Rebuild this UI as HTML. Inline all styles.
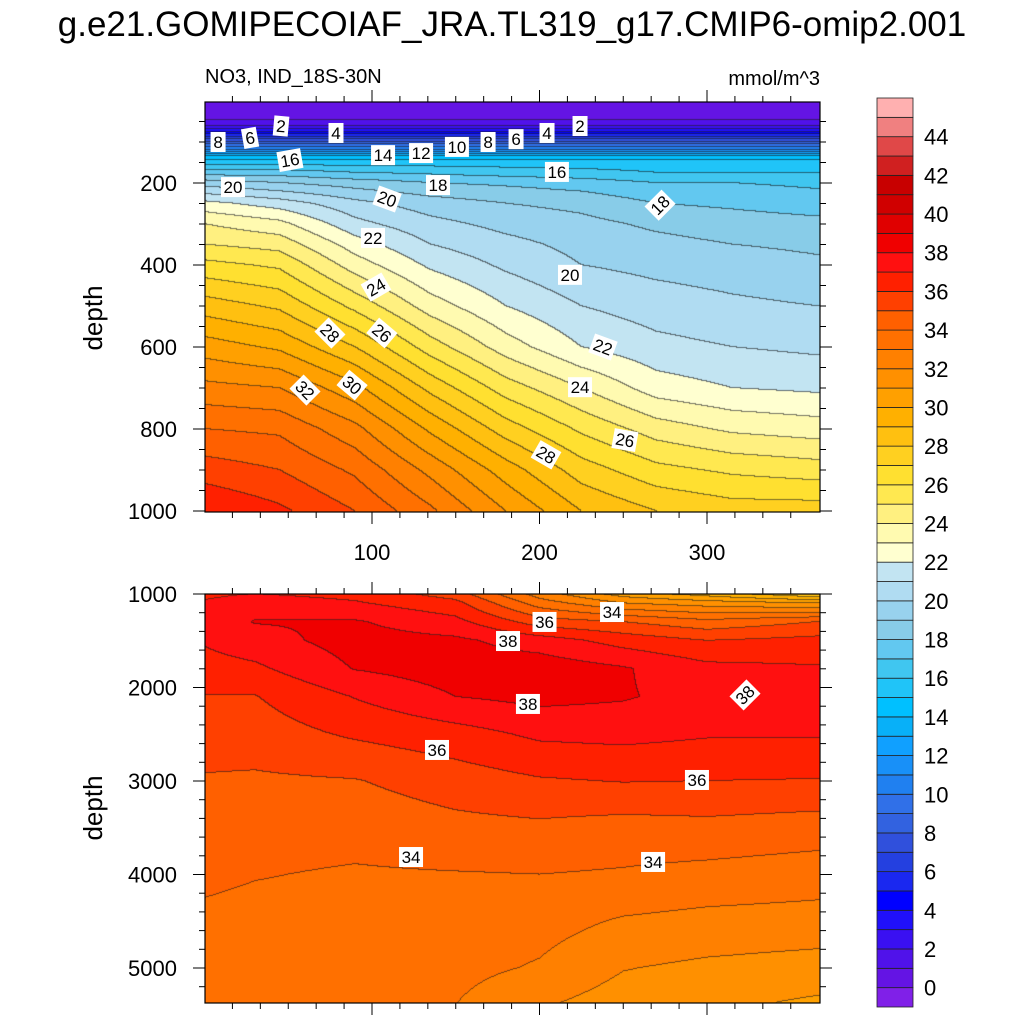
<!DOCTYPE html>
<html><head><meta charset="utf-8">
<style>
html,body{margin:0;padding:0;background:#fff;}
#wrap{position:relative;width:1024px;height:1024px;overflow:hidden;font-family:"Liberation Sans",sans-serif;}
canvas,svg{position:absolute;left:0;top:0;}
</style></head>
<body>
<div id="wrap">
<canvas id="cv" width="1024" height="1024"></canvas>
<svg id="sv" width="1024" height="1024"></svg>
</div>
<script>
// ---------- data ----------
const colors = ["#8020e8","#6414e4","#5012ea","#3a10f2","#2010fa","#0000ff","#1a28f0","#2440e0","#3050dc","#3262e0","#3070e8","#2080f0","#1890f8","#10a0ff","#08b0f8","#00c0ff","#20c4f8","#40c6f0","#62c8f0","#88cce8","#98d2ee","#b0dcf2","#c2e4f2","#ffffd0","#fffab0","#fff080","#ffe850","#ffe030","#ffd020","#ffc010","#ffb000","#ffa000","#ff9000","#ff8000","#ff7000","#ff6000","#ff4000","#ff2000","#ff1010","#f00000","#e00000","#d00000","#c80000","#d02020","#e04848","#f08080","#ffb0b0"];
const cbarTicks = [0,2,4,6,8,10,12,14,16,18,20,22,24,26,28,30,32,34,36,38,40,42,44];

const topDays = [0,45,90,135,180,225,270,315,365];
const topDepths = [0,45,60,75,90,100,112,125,135,150,175,200,250,300,350,400,500,600,700,800,900,1000];
const topShallow = [0.3,0.8,2,4,6.5,8,10,12,14,15.5];
const topDay0   = [17.5,19.5,22.3,24,25,26.3,28.5,30.5,32.3,34,35.5,37];
const topDay45  = [17.5,19,21.5,23.3,24.6,25.8,27.8,29.8,32,33.8,35,36.2];
const topDay90  = [17,18.5,20.3,21.3,22.5,23.5,25.7,28,30.3,32.3,33.8,35];
const topDay135 = [16.8,18,19.5,20.3,21,21.8,23.5,25.5,27.7,29.8,31.7,33.2];
const topDay180 = [16.5,17.8,19,19.7,20.3,20.8,22,23.5,25.5,27.5,29.5,31];
const topDay225 = [16.3,17.5,18.7,19.3,19.7,20,21,22,24,25.8,27.5,29];
const topDay270 = [16,17,18,18.8,19.3,19.7,20.5,21.3,22.5,24.5,26.3,28];
const topDay315 = [16,17,17.8,18.5,19,19.5,20.2,21,22,23.8,25.8,27.5];
const topDay365 = [16,16.8,17.5,18.3,18.8,19.2,20,20.8,21.8,23.5,25.5,27.5];

const botDays = [0,30,90,150,200,250,300,365];
const botDepths = [1000,1100,1300,1500,1800,2100,2500,3000,3500,4000,4500,5000,5400];
const botDay0   = [36.8,37.1,37.3,37.1,36.6,35.95,35.5,34.9,34.6,34.2,33.8,33.6,33.5];
const botDay30  = [37,37.5,38.05,37.6,36.8,35.95,35.5,34.85,34.4,34.05,33.7,33.5,33.4];
const botDay90  = [36.7,37.1,38.1,38.4,38.05,37.05,36.15,34.95,34.35,33.9,33.65,33.5,33.4];
const botDay150 = [35.5,36.3,37.3,38.2,38.5,38.0,36.6,35.5,34.7,33.95,33.6,33.3,33.0];
const botDay200 = [32.5,33.5,35.5,37.5,38.6,38.3,37.2,35.9,34.8,34.0,33.4,32.9,32.1];
const botDay250 = [30.5,32,35,36.6,38.1,38.1,37.3,36.05,34.6,33.9,32.9,32.05,31.5];
const botDay300 = [29.5,31.5,34.3,36,37.3,37.6,37.1,36,34.7,33.7,32.7,31.8,31.2];
const botDay365 = [28,31,35,36.3,37.1,37.3,37.1,35.95,34.5,33.5,32.6,31.6,30.8];

const topLabelText = ["8","6","2","4","14","12","10","8","6","4","2","16","16","20","18","20","18","22","20","24","28","26","22","32","30","24","26","28"];
const topLabelDay  = [8.1,27.2,45.7,78.5,106.6,129.3,150.7,169.3,186,204.5,224.2,51,210.4,17,139.4,109,272,100.6,218.2,102.4,74.9,105.9,237.9,60,88.1,224.2,251,203.9];
const topLabelDepth= [100,90,61,78,132,127,112,100,93,78,61,144,173,210,205,239,254,334,424,454,566,566,600,705,693,698,827,863];
const topLabelRot  = [0,-10,5,0,0,0,0,0,0,0,0,-10,0,0,0,20,-45,0,0,-30,45,40,20,45,40,0,10,30];

const botLabelText = ["36","34","38","38","38","36","36","34","34"];
const botLabelDay  = [203,243.3,181.2,193.1,322.7,138.8,294,123.3,267.8];
const botLabelDepth= [1299,1193,1503,2176,2080,2668,2989,3813,3866];
const botLabelRot  = [0,0,0,0,-45,0,0,0,0];

const xTicks = [100,200,300];
const topYTicks = [200,400,600,800,1000];
const botYTicks = [1000,2000,3000,4000,5000];

// ---------- axes ----------
const P1 = {x0:205,x1:820,y0:102,y1:512};
const P2 = {x0:205,x1:820,y0:594,y1:1003};
function xOf(day){return 204.5 + day*1.675;}
function dayOf(x){return (x-204.5)/1.675;}
function yTop(d){return 101 + d*0.41;}
function dTop(y){return (y-101)/0.41;}
function yBot(d){return 594 + (d-1000)*0.0935;}
function dBot(y){return 1000 + (y-594)/0.0935;}

const topCols = [topDay0,topDay45,topDay90,topDay135,topDay180,topDay225,topDay270,topDay315,topDay365].map(c=>topShallow.concat(c));
const botCols = [botDay0,botDay30,botDay90,botDay150,botDay200,botDay250,botDay300,botDay365];

function seg(arr,v){
  if(v<=arr[0]) return [0,0];
  for(let i=0;i<arr.length-1;i++){ if(v<=arr[i+1]) return [i,(v-arr[i])/(arr[i+1]-arr[i])]; }
  return [arr.length-2,1];
}
function field(days,depths,cols,day,dep){
  const [i,fx]=seg(days,day), [j,fy]=seg(depths,dep);
  const a=cols[i][j]*(1-fy)+cols[i][j+1]*fy;
  const b=cols[i+1][j]*(1-fy)+cols[i+1][j+1]*fy;
  return a*(1-fx)+b*fx;
}
function lvl(v){let k=Math.floor(v)+1;return Math.max(0,Math.min(colors.length-1,k));}
function hex(c){return [parseInt(c.substr(1,2),16),parseInt(c.substr(3,2),16),parseInt(c.substr(5,2),16)];}
const rgb = colors.map(hex);

const cv=document.getElementById('cv'), ctx=cv.getContext('2d');
function drawPanel(P,dOf,days,depths,cols){
  const w=P.x1-P.x0, h=P.y1-P.y0;
  const idx=new Int16Array(w*h);
  for(let yy=0;yy<h;yy++){const dep=dOf(P.y0+yy+0.5);
    for(let xx=0;xx<w;xx++){idx[yy*w+xx]=lvl(field(days,depths,cols,dayOf(P.x0+xx+0.5),dep));}}
  const img=ctx.createImageData(w,h);
  for(let yy=0;yy<h;yy++)for(let xx=0;xx<w;xx++){
    const k=yy*w+xx, c=rgb[idx[k]];
    let edge=(xx<w-1&&idx[k+1]!==idx[k])||(yy<h-1&&idx[k+w]!==idx[k]);
    const f=edge?0.4:1;
    img.data[k*4]=c[0]*f+30*(1-f);img.data[k*4+1]=c[1]*f+30*(1-f);img.data[k*4+2]=c[2]*f+30*(1-f);img.data[k*4+3]=255;
  }
  ctx.putImageData(img,P.x0,P.y0);
}
drawPanel(P1,dTop,topDays,topDepths,topCols);
drawPanel(P2,dBot,botDays,botDepths,botCols);

// ---------- overlay ----------
const NS="http://www.w3.org/2000/svg", sv=document.getElementById('sv');
function mk(tag,attrs,parent){const e=document.createElementNS(NS,tag);for(const k in attrs)e.setAttribute(k,attrs[k]);(parent||sv).appendChild(e);return e;}
function txt(s,attrs,name){const e=mk('text',attrs);e.textContent=s;


return e;}

txt("g.e21.GOMIPECOIAF_JRA.TL319_g17.CMIP6-omip2.001",{x:512,y:36,'font-size':35,'text-anchor':'middle',fill:'#000'},'chart-title');
txt("NO3, IND_18S-30N",{x:205,y:83,'font-size':20,fill:'#000'},'left-subtitle');
txt("mmol/m^3",{x:820,y:85,'font-size':20,'text-anchor':'end',fill:'#000'},'units-subtitle');
txt("depth",{x:0,y:0,'font-size':26,'text-anchor':'middle',transform:'translate(102,318) rotate(-90)'},'top-y-axis-title');
txt("depth",{x:0,y:0,'font-size':26,'text-anchor':'middle',transform:'translate(102,808) rotate(-90)'},'bottom-y-axis-title');

function ticksFor(P,yMajor,yOfF,yMinStep,yMin,yMax,showX){
  const g=mk('g',{stroke:'#000','stroke-width':1});
  
  
  for(let d=0;d<=366;d+=100/6){const x=xOf(d);if(x<P.x0||x>P.x1)continue;
    const maj=Math.abs(d/100-Math.round(d/100))<1e-6&&d>0;const L=maj?12:6;
    mk('line',{x1:x,y1:P.y0,x2:x,y2:P.y0-L},g);mk('line',{x1:x,y1:P.y1,x2:x,y2:P.y1+L},g);}
  for(let d=yMin;d<=yMax+0.1;d+=yMinStep){const y=yOfF(d);if(y<P.y0-0.5||y>P.y1+0.5)continue;
    const maj=yMajor.indexOf(Math.round(d))>=0;const L=maj?12:6;
    mk('line',{x1:P.x0,y1:y,x2:P.x0-L,y2:y},g);mk('line',{x1:P.x1,y1:y,x2:P.x1+L,y2:y},g);}
  yMajor.forEach(d=>{txt(String(d),{x:177,y:yOfF(d)+8,'font-size':22,'text-anchor':'end'},'y-tick-label');});
  if(showX) xTicks.forEach(d=>{txt(String(d),{x:xOf(d),y:560,'font-size':22,'text-anchor':'middle'},'x-tick-label');});
  const fr=mk('rect',{x:P.x0,y:P.y0,width:P.x1-P.x0,height:P.y1-P.y0,fill:'none',stroke:'#000','stroke-width':1.2});
  
  
}
ticksFor(P1,topYTicks,yTop,50,0,1000,true);
ticksFor(P2,botYTicks,yBot,200,1000,5400,false);

function labels(texts,days,deps,rots,yF,name){
  for(let i=0;i<texts.length;i++){
    const x=xOf(days[i]),y=yF(deps[i]);
    const g=mk('g',{transform:`translate(${x},${y}) rotate(${rots[i]})`});
    
    
    const w=texts[i].length>1?24:15;
    mk('rect',{x:-w/2,y:-10,width:w,height:20,fill:'#fff'},g);
    const t=mk('text',{x:0,y:6,'font-size':17,'text-anchor':'middle',fill:'#000'},g);t.textContent=texts[i];
  }
}
labels(topLabelText,topLabelDay,topLabelDepth,topLabelRot,yTop,'top-contour-label');
labels(botLabelText,botLabelDay,botLabelDepth,botLabelRot,yBot,'bottom-contour-label');

// colorbar
const cb={x:877,w:36,top:98,bot:1007};
const bh=(cb.bot-cb.top)/colors.length;
for(let i=0;i<colors.length;i++){
  const r=mk('rect',{x:cb.x,y:cb.bot-(i+1)*bh,width:cb.w,height:bh,fill:colors[i],stroke:'#222','stroke-width':0.8});
  
  
}
cbarTicks.forEach(v=>{const y=cb.bot-(v+1)*bh;txt(String(v),{x:924,y:y+8,'font-size':22},'colorbar-label');});
</script>
</body></html>
